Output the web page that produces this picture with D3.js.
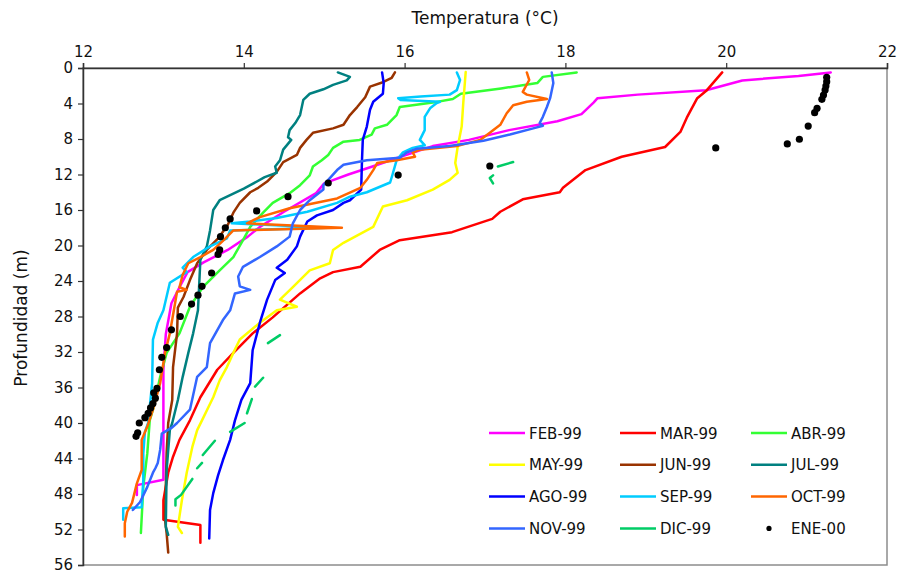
<!DOCTYPE html>
<html>
<head>
<meta charset="utf-8">
<script src="https://cdn.jsdelivr.net/npm/d3@7"></script>
<style>
  body { margin: 0; background: #fff; }
  text { font-family: "DejaVu Sans", Verdana, sans-serif; fill: #111; }
</style>
</head>
<body>
<svg id="chart" width="900" height="573"></svg>
<script>
// temperature (°C), depth (m) pairs
var feb99 = [[21.3,0.5],[20.9,0.9],[20.2,1.4],[19.75,2.5],[18.9,3.0],[18.4,3.4],[18.35,3.9],[18.2,5.2],[17.9,6.0],[17.3,7.0],[16.8,8.1],[16.35,8.8],[15.95,10.0],[15.6,11.1],[15.3,12.0],[15.0,13.0],[14.9,14.1],[14.5,16.2],[14.2,17.9],[14.05,19],[13.8,20.5],[13.5,21.9],[13.3,23],[13.2,24.7],[13.1,26.5],[13.03,30],[13.0,34],[13.0,40],[13.0,46.4],[12.67,47],[12.67,48.1]];
var mar99 = [[19.95,0.5],[19.76,2.5],[19.64,3.4],[19.51,5.6],[19.43,7.2],[19.24,8.9],[18.7,10],[18.25,11.5],[17.97,13.5],[17.93,14],[17.47,14.8],[17.19,16.2],[17.09,17],[16.59,18.5],[15.94,19.4],[15.69,20.5],[15.45,22.4],[15.11,23],[14.95,23.7],[14.7,25.4],[14.36,28.1],[14.11,29.9],[13.87,32.1],[13.67,34],[13.46,37.1],[13.33,39.7],[13.2,41.9],[13.12,43.8],[13.06,45.6],[13.0,48.7],[13.0,50.9],[13.46,51.5],[13.46,53.5]];
var abr99 = [[18.14,0.5],[17.72,1.0],[17.65,1.7],[17.2,2.3],[16.7,2.9],[16.6,3.5],[16.35,3.9],[15.94,4.4],[15.9,5.3],[15.78,6.4],[15.63,6.8],[15.59,7.5],[15.44,8.1],[15.24,8.3],[15.11,9],[15.05,9.8],[14.97,10.4],[14.86,11.1],[14.82,12.1],[14.7,13.2],[14.57,14.1],[14.36,15.2],[14.24,16.3],[14.08,17.9],[13.99,19.4],[13.87,21.3],[13.7,22.8],[13.49,24.7],[13.33,26.9],[13.2,29.9],[13.04,32.1],[12.96,34.8],[12.87,38.5],[12.83,39.7],[12.8,43.4],[12.75,47.2],[12.72,52.4]];
var may99 = [[16.76,0.45],[16.73,3.9],[16.71,6.6],[16.66,8.9],[16.63,10.7],[16.66,11.8],[16.56,12.6],[16.35,13.7],[16.03,14.9],[15.73,15.6],[15.61,17.9],[15.24,19.7],[15.11,20.5],[15.07,22],[14.82,22.8],[14.61,24.7],[14.45,26.1],[14.66,26.9],[14.41,27.3],[14.2,28.7],[13.95,30.6],[13.87,32.1],[13.79,33.7],[13.7,35.2],[13.62,37.1],[13.48,39.7],[13.42,40.8],[13.36,42.7],[13.29,45.6],[13.23,48.7],[13.18,51.7],[13.23,52.4]];
var jun99 = [[15.88,0.5],[15.84,1.1],[15.73,1.6],[15.57,2.1],[15.51,3.3],[15.41,4.4],[15.32,5.3],[15.24,6.4],[15.11,6.8],[14.86,7.3],[14.78,8.1],[14.7,9],[14.66,9.8],[14.49,10.6],[14.41,11.7],[14.29,12.8],[14.18,13.5],[14.08,14],[13.95,15.2],[13.87,16.3],[13.8,17.7],[13.68,19.2],[13.54,20.5],[13.42,22],[13.33,23.9],[13.25,25.8],[13.18,27],[13.17,29.9],[13.12,33.7],[13.11,37.4],[13.06,40],[13.04,43.4],[13.02,50.9],[13.04,52.4],[13.06,54.6]];
var jul99 = [[15.17,0.5],[15.32,1.0],[15.28,1.4],[15.11,1.9],[14.99,2.4],[14.82,2.9],[14.74,3.6],[14.7,5.3],[14.64,6.2],[14.57,7],[14.55,7.8],[14.59,8.1],[14.49,9.2],[14.45,10.4],[14.39,11.1],[14.41,11.8],[14.26,12.3],[14.08,13.2],[14.0,13.6],[13.7,14.9],[13.62,16],[13.58,18.3],[13.54,20.1],[13.46,21.6],[13.43,27.3],[13.37,29.9],[13.31,32.1],[13.24,34.8],[13.18,37.4],[13.11,40],[13.08,40.8],[13.04,45.3],[13.03,51.7],[13.06,52.6]];
var ago99 = [[15.72,0.5],[15.74,1.7],[15.73,2.9],[15.61,3.8],[15.57,4.7],[15.53,6.6],[15.48,8.1],[15.47,10.4],[15.46,13.7],[15.32,14.9],[15.24,15.2],[15.11,16],[14.91,16.6],[14.79,17.3],[14.7,19],[14.66,20.1],[14.54,21.6],[14.41,22.5],[14.51,23.1],[14.39,23.9],[14.29,26.1],[14.2,28.7],[14.11,31.8],[14.08,35.5],[13.97,37.4],[13.89,39.7],[13.83,41.9],[13.74,44.2],[13.68,45.9],[13.62,47.9],[13.58,49.8],[13.57,53]];
var sep99 = [[16.65,0.5],[16.69,1.35],[16.65,2.5],[16.56,3.0],[16.2,3.2],[15.92,3.4],[15.95,3.6],[16.44,3.8],[16.4,3.95],[16.32,4.5],[16.25,5.5],[16.25,7.0],[16.19,8.1],[16.25,8.7],[16.1,9.0],[15.98,9.5],[15.9,10.4],[15.85,12.0],[15.82,12.9],[15.53,14],[15.32,14.5],[15.16,15.2],[14.79,16.2],[14.41,16.9],[14.08,17.3],[13.85,17.5],[15.04,18.0],[13.83,18.3],[13.79,19.2],[13.58,20.1],[13.37,21.3],[13.24,22.5],[13.29,23],[13.08,24.2],[13.0,27.3],[12.93,28.7],[12.87,30.6],[12.86,35.5],[12.81,40],[12.77,41],[12.75,43.4],[12.75,46.4],[12.73,49.5],[12.5,49.6],[12.5,50.9]];
var oct99 = [[17.52,0.5],[17.55,1.35],[17.47,2.7],[17.52,3.0],[17.77,3.5],[17.52,3.8],[17.35,4.2],[17.27,5.1],[17.19,6.4],[17.06,7.3],[16.94,8.1],[16.65,8.8],[16.19,9.2],[16.1,9.5],[16.13,10],[15.9,10.4],[15.66,10.7],[15.61,11.5],[15.53,12.6],[15.45,13.5],[15.16,14.7],[14.57,15.8],[14.2,16.8],[14.04,17.5],[15.22,18.0],[13.87,18.3],[13.75,19.4],[13.62,20.5],[13.46,21.3],[13.31,22],[13.24,23.3],[13.2,24.7],[13.29,25],[13.17,25.2],[13.13,27.3],[13.08,29.9],[13.02,32.1],[12.96,35.5],[12.87,38.5],[12.8,40.4],[12.73,41.9],[12.73,45.3],[12.67,46.8],[12.61,49],[12.55,50],[12.52,51.3],[12.52,52.8]];
var nov99 = [[17.83,0.5],[17.85,1.7],[17.81,3.4],[17.77,4.4],[17.72,5.5],[17.68,6.2],[17.72,6.5],[17.6,6.8],[17.31,7.5],[16.98,8.2],[16.56,8.8],[16.15,9.1],[16.03,9.5],[15.94,10.1],[15.53,10.4],[15.24,10.9],[15.16,11.5],[15.07,12.4],[14.99,13.2],[14.99,13.7],[14.82,14.9],[14.7,16],[14.61,17.5],[14.57,19],[14.41,20.1],[14.2,21.3],[13.99,22.4],[13.93,23.5],[13.95,24.6],[14.08,25],[13.89,25.4],[13.83,27.3],[13.74,28.4],[13.58,31],[13.54,33.7],[13.42,34.8],[13.33,38.5],[13.17,40],[13.11,40.5],[12.98,41.2],[12.96,43],[12.93,44.5],[12.9,45.1],[12.87,45.6],[12.8,47.2],[12.71,48.9],[12.62,49.8]];
// gaps in the December profile are missing readings
var dic99 = [[17.35,10.6],[17.16,11.1],null,[17.1,12.1],[17.06,12.4],[17.1,13.0],null,[14.45,30.1],[14.3,31.0],null,[14.24,34.9],[14.14,35.9],null,[14.1,37.3],[14.04,38.9],null,[14.01,40],[13.83,41],null,[13.64,42],[13.49,43.6],null,[13.48,44.5],[13.42,45.1],null,[13.36,46.3],[13.22,48.1],[13.15,48.6],[13.15,49.3]];
var ene00 = [[21.25,1.05],[21.25,1.54],[21.24,2.03],[21.23,2.48],[21.21,3.04],[21.19,3.53],[21.13,4.54],[21.1,5.03],[21.02,6.54],[20.91,8.03],[20.76,8.56],[19.87,9.0],[17.06,11.04],[15.92,12.06],[15.05,12.96],[14.55,14.5],[14.16,16.1],[13.83,17.0],[13.77,18.0],[13.71,19.0],[13.7,20.5],[13.68,21.0],[13.6,23.1],[13.48,24.6],[13.43,25.6],[13.35,26.6],[13.21,28.0],[13.1,29.5],[13.04,31.5],[12.98,32.6],[12.95,34.0],[12.92,36.1],[12.88,36.6],[12.9,37.2],[12.87,37.8],[12.84,38.3],[12.81,38.9],[12.77,39.4],[12.7,40.0],[12.68,41.1],[12.66,41.5]];

var seriesNames = ["FEB-99","MAR-99","ABR-99","MAY-99","JUN-99","JUL-99","AGO-99","SEP-99","OCT-99","NOV-99","DIC-99"];
var seriesData = [feb99, mar99, abr99, may99, jun99, jul99, ago99, sep99, oct99, nov99, dic99];
var seriesColors = ["#ff00ff","#ff0000","#33ff33","#ffff00","#993300","#008080","#0000ff","#00ccff","#ff6600","#3366ff","#00cc66"];
var tempTicks = [12,14,16,18,20,22];
var depthTicks = [0,4,8,12,16,20,24,28,32,36,40,44,48,52,56];

var svg = d3.select("#chart");
var plotL = 83, plotR = 887, plotT = 68, plotB = 565;

var x = d3.scaleLinear().domain([12,22]).range([plotL,plotR]);
var y = d3.scaleLinear().domain([0,56]).range([plotT,plotB]);

// plot frame
svg.append("rect")
  .attr("x", plotL).attr("y", plotT)
  .attr("width", plotR-plotL).attr("height", plotB-plotT)
  .attr("fill", "none").attr("stroke", "#8c8c8c").attr("stroke-width", 1.5);

var xAxis = svg.append("g").attr("transform", "translate(0," + plotT + ")")
  .call(d3.axisTop(x).tickValues(tempTicks).tickSize(5).tickPadding(6));
var yAxis = svg.append("g").attr("transform", "translate(" + plotL + ",0)")
  .call(d3.axisLeft(y).tickValues(depthTicks).tickSize(5).tickPadding(5));

[xAxis, yAxis].forEach(function(a) {
  a.selectAll("path").attr("stroke", "#333").attr("stroke-width", 1.5);
  a.selectAll("line").attr("stroke", "#333").attr("stroke-width", 1.2);
  a.selectAll("text").style("font-size", "15px").attr("fill", "#111");
});

svg.append("text").attr("x", 485).attr("y", 24).attr("text-anchor", "middle")
  .style("font-size", "17px").text("Temperatura (°C)");
svg.append("text").attr("transform", "translate(27,318) rotate(-90)")
  .attr("text-anchor", "middle").style("font-size", "17px").text("Profundidad (m)");

var line = d3.line()
  .defined(function(d) { return d !== null; })
  .x(function(d) { return x(d[0]); })
  .y(function(d) { return y(d[1]); });

svg.append("g").selectAll("path")
  .data(seriesData)
  .enter().append("path")
  .attr("d", line)
  .attr("fill", "none")
  .attr("stroke", function(d, i) { return seriesColors[i]; })
  .attr("stroke-width", 2.5)
  .attr("stroke-linejoin", "round")
  .attr("stroke-linecap", "round");

svg.append("g").selectAll("circle")
  .data(ene00)
  .enter().append("circle")
  .attr("cx", function(d) { return x(d[0]); })
  .attr("cy", function(d) { return y(d[1]); })
  .attr("r", 3.6)
  .attr("fill", "#000");

// legend, 3 columns x 4 rows
var legendNames = seriesNames.concat(["ENE-00"]);
var lg = svg.append("g").selectAll("g")
  .data(legendNames)
  .enter().append("g")
  .attr("transform", function(d, i) {
    return "translate(" + (489 + (i % 3) * 131) + "," + (433 + Math.floor(i / 3) * 31.8) + ")";
  });
lg.each(function(d, i) {
  var g = d3.select(this);
  if (i < seriesColors.length) {
    g.append("line").attr("x1", 0).attr("x2", 36).attr("y1", 0).attr("y2", 0)
      .attr("stroke", seriesColors[i]).attr("stroke-width", 2.5);
  } else {
    g.append("circle").attr("cx", 18).attr("cy", 0).attr("r", 2.6).attr("fill", "#000");
  }
  g.append("text").attr("x", 40).attr("y", 5.5).style("font-size", "15px").text(d);
});
</script>
</body>
</html>
